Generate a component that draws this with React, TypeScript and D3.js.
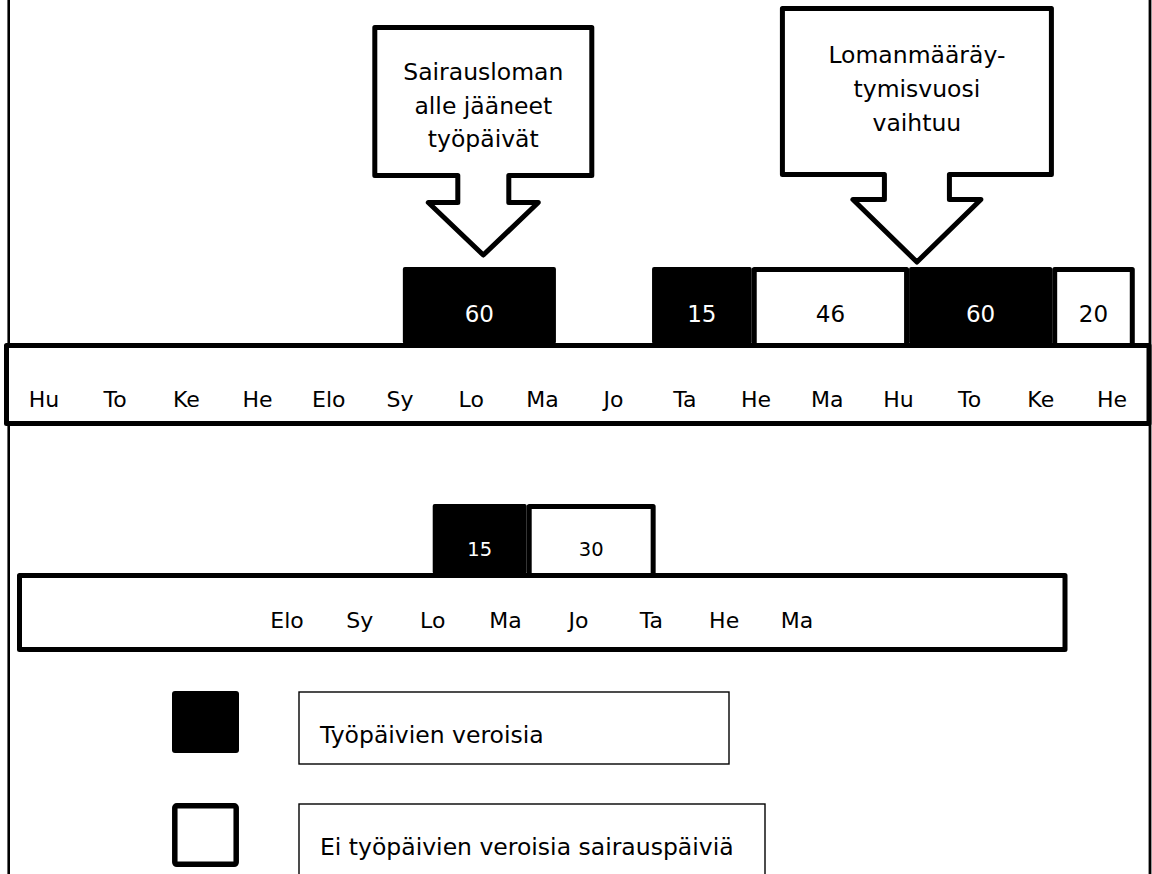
import React from "react";
import * as d3 from "d3";

// ---------- data ----------
const topMonths = ["Hu", "To", "Ke", "He", "Elo", "Sy", "Lo", "Ma", "Jo", "Ta", "He", "Ma", "Hu", "To", "Ke", "He"];
const bottomMonths = ["Elo", "Sy", "Lo", "Ma", "Jo", "Ta", "He", "Ma"];

// periods in month units along each timeline
const topPeriods = [
  { start: 5.04, end: 7.19, days: 60, taxable: true },
  { start: 8.54, end: 9.94, days: 15, taxable: true },
  { start: 9.94, end: 12.15, days: 46, taxable: false },
  { start: 12.15, end: 14.16, days: 60, taxable: true },
  { start: 14.16, end: 15.32, days: 20, taxable: false },
];
const bottomPeriods = [
  { start: 2.0, end: 3.29, days: 15, taxable: true },
  { start: 3.29, end: 5.06, days: 30, taxable: false },
];

const calloutTexts = [
  ["Sairausloman", "alle jääneet", "työpäivät"],
  ["Lomanmääräy-", "tymisvuosi", "vaihtuu"],
];
const calloutTargets = [6.17, 12.26];

const legendLabels = ["Työpäivien veroisia", "Ei työpäivien veroisia sairauspäiviä"];
const legendTaxable = [true, false];

// ---------- layout ----------
const W = 1152;
const H = 874;
const FONT = "'DejaVu Sans', Verdana, sans-serif";

const xTop = d3.scaleLinear().domain([0, topMonths.length - 1]).range([44, 1112]);
const xBottom = d3.scaleLinear().domain([0, bottomMonths.length - 1]).range([287, 797]);

const calloutLayout = [
  { boxTop: 27.5, boxBottom: 175.5, halfBox: 108.5, halfStem: 25.5, headTop: 202.5, halfHead: 55, tip: 255, line0: 80, lineH: 33.5 },
  { boxTop: 8.5, boxBottom: 174.5, halfBox: 134.5, halfStem: 32.5, headTop: 199.5, halfHead: 64, tip: 262, line0: 63, lineH: 34 },
];

function calloutPath(cx: number, L: any) {
  const p = d3.path();
  p.moveTo(cx - L.halfBox, L.boxTop);
  p.lineTo(cx + L.halfBox, L.boxTop);
  p.lineTo(cx + L.halfBox, L.boxBottom);
  p.lineTo(cx + L.halfStem, L.boxBottom);
  p.lineTo(cx + L.halfStem, L.headTop);
  p.lineTo(cx + L.halfHead, L.headTop);
  p.lineTo(cx, L.tip);
  p.lineTo(cx - L.halfHead, L.headTop);
  p.lineTo(cx - L.halfStem, L.headTop);
  p.lineTo(cx - L.halfStem, L.boxBottom);
  p.lineTo(cx - L.halfBox, L.boxBottom);
  p.closePath();
  return p.toString();
}

function Bars({ periods, x, top, bottom, fontSize, baseline }: any) {
  return (
    <g>
      {periods.map((d: any, i: number) => {
        const x0 = x(d.start);
        const x1 = x(d.end);
        return d.taxable ? (
          <rect key={"b" + i} x={x0} y={top} width={x1 - x0} height={bottom - top} rx={2} fill="#000" />
        ) : (
          <rect key={"b" + i} x={x0 + 2.5} y={top + 2.5} width={x1 - x0 - 5} height={bottom - top} fill="#fff" stroke="#000" strokeWidth={5} strokeLinejoin="round" />
        );
      })}
      {periods.map((d: any, i: number) => (
        <text key={"t" + i} x={(x(d.start) + x(d.end)) / 2} y={baseline} textAnchor="middle" fontSize={fontSize} fill={d.taxable ? "#fff" : "#000"} fontFamily={FONT}>
          {d.days}
        </text>
      ))}
    </g>
  );
}

export default function App() {
  return (
    <svg width={W} height={H} viewBox={`0 0 ${W} ${H}`} style={{ position: "absolute", left: 0, top: 0, background: "#fff" }}>
      <rect x={0} y={0} width={W} height={H} fill="#fff" />
      {/* page borders */}
      <line x1={8.7} y1={0} x2={8.7} y2={H} stroke="#000" strokeWidth={2.6} />
      <line x1={1150} y1={0} x2={1150} y2={H} stroke="#000" strokeWidth={2.8} />

      {/* callouts */}
      {calloutTexts.map((lines, i) => {
        const cx = xTop(calloutTargets[i]);
        const L = calloutLayout[i];
        return (
          <g key={"c" + i}>
            <path d={calloutPath(cx, L)} fill="#fff" stroke="#000" strokeWidth={5} strokeLinejoin="round" />
            {lines.map((t, j) => (
              <text key={j} x={cx} y={L.line0 + j * L.lineH} textAnchor="middle" fontSize={23.5} fontFamily={FONT} fill="#000">
                {t}
              </text>
            ))}
          </g>
        );
      })}

      {/* top timeline */}
      <Bars periods={topPeriods} x={xTop} top={267} bottom={344} fontSize={23} baseline={322} />
      <rect x={6.5} y={345.5} width={1142.5} height={78} fill="#fff" stroke="#000" strokeWidth={5} strokeLinejoin="round" />
      {topMonths.map((m, i) => (
        <text key={"tm" + i} x={xTop(i)} y={407} textAnchor="middle" fontSize={22} fontFamily={FONT} fill="#000">
          {m}
        </text>
      ))}

      {/* bottom timeline */}
      <Bars periods={bottomPeriods} x={xBottom} top={504} bottom={574} fontSize={19.5} baseline={556} />
      <rect x={19.5} y={575.5} width={1045.5} height={74} fill="#fff" stroke="#000" strokeWidth={5} strokeLinejoin="round" />
      {bottomMonths.map((m, i) => (
        <text key={"bm" + i} x={xBottom(i)} y={628} textAnchor="middle" fontSize={22} fontFamily={FONT} fill="#000">
          {m}
        </text>
      ))}

      {/* legend */}
      {legendLabels.map((label, i) => {
        const y0 = 691 + i * 112;
        const boxW = i === 0 ? 430 : 466;
        return (
          <g key={"l" + i}>
            {legendTaxable[i] ? (
              <rect x={172} y={y0} width={67} height={62} rx={3} fill="#000" />
            ) : (
              <rect x={174.8} y={y0 + 2.8} width={61.4} height={58.5} rx={2} fill="#fff" stroke="#000" strokeWidth={5.5} />
            )}
            <rect x={299} y={y0 + 1} width={boxW} height={72} fill="#fff" stroke="#000" strokeWidth={1.4} />
            <text x={320} y={y0 + 52} fontSize={23.5} fontFamily={FONT} fill="#000">
              {label}
            </text>
          </g>
        );
      })}
    </svg>
  );
}
